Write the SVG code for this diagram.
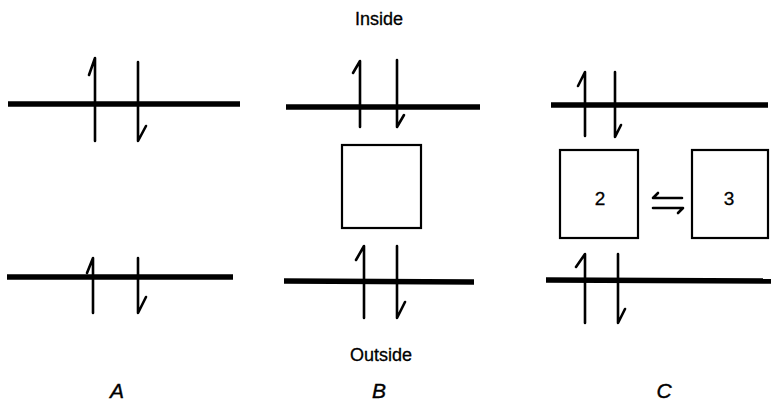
<svg xmlns="http://www.w3.org/2000/svg" width="771" height="403" viewBox="0 0 771 403">
  <style>
    .membrane { stroke: #000; stroke-width: 5.5; stroke-linecap: butt; fill: none; }
    .flux { stroke: #000; stroke-width: 2.6; fill: none; stroke-linecap: round; stroke-linejoin: round; }
    .box { fill: #fff; stroke: #000; stroke-width: 2.2; }
    .label { font-family: "Liberation Sans", Arial, sans-serif; font-size: 18px; fill: #000; stroke: #000; stroke-width: 0.3; }
    .panel { font-family: "Liberation Sans", Arial, sans-serif; font-size: 21px; font-style: italic; fill: #000; stroke: #000; stroke-width: 0.4; }
    .num { font-family: "Liberation Sans", Arial, sans-serif; font-size: 19px; fill: #000; stroke: #000; stroke-width: 0.3; }
  </style>

  <rect width="771" height="403" fill="#fff"/>

  <text class="label" x="379" y="25" text-anchor="middle">Inside</text>
  <text class="label" x="381" y="361" text-anchor="middle">Outside</text>

  <!-- Panel A: single membrane pair -->
  <g id="panelA">
    <line class="membrane" x1="8" y1="104" x2="240" y2="104"/>
    <line class="membrane" x1="7" y1="277" x2="233" y2="277"/>
  </g>

  <!-- Panel B: membranes with one intermediate compartment -->
  <g id="panelB">
    <line class="membrane" x1="286" y1="107" x2="480" y2="107"/>
    <line class="membrane" x1="284" y1="281" x2="474" y2="282"/>
    <g id="boxB">
      <rect class="box" x="342" y="145" width="79" height="83"/>
    </g>
  </g>

  <!-- Panel C: membranes with two exchanging compartments -->
  <g id="panelC">
    <line class="membrane" x1="551" y1="105" x2="768" y2="105"/>
    <line class="membrane" x1="546" y1="280" x2="771" y2="281"/>
    <g id="box2">
      <rect class="box" x="560" y="150" width="78" height="88"/>
      <text class="num" x="600" y="205" text-anchor="middle">2</text>
    </g>
    <g id="box3">
      <rect class="box" x="692" y="150" width="76" height="88"/>
      <text class="num" x="729" y="205" text-anchor="middle">3</text>
    </g>
  </g>

  <!-- Flux arrows (half-barbed) -->
  <g id="connectors">
    <!-- A top -->
    <path class="flux" d="M95 141 V58 L89 75"/>
    <path class="flux" d="M138 62 V141 L146 126"/>
    <!-- A bottom -->
    <path class="flux" d="M93 313 V258 L87 273"/>
    <path class="flux" d="M138 258 V313 L146 297"/>
    <!-- B top -->
    <path class="flux" d="M360 127 V61 L353 73"/>
    <path class="flux" d="M397 60 V127 L404 115"/>
    <!-- B bottom -->
    <path class="flux" d="M364 318 V246 L356 260"/>
    <path class="flux" d="M397 246 V318 L405 302"/>
    <!-- C top -->
    <path class="flux" d="M585 136 V72 L578 86"/>
    <path class="flux" d="M615 72 V137 L621 125"/>
    <!-- C bottom -->
    <path class="flux" d="M585 323 V254 L576 267"/>
    <path class="flux" d="M618 254 V323 L625 309"/>
    <!-- exchange between 2 and 3 -->
    <path class="flux" d="M682 198 H653 L658 193"/>
    <path class="flux" d="M653 208 H683 L678 213"/>
  </g>

  <text class="panel" x="117" y="398" text-anchor="middle">A</text>
  <text class="panel" x="379" y="398" text-anchor="middle">B</text>
  <text class="panel" x="664" y="398" text-anchor="middle">C</text>
</svg>
